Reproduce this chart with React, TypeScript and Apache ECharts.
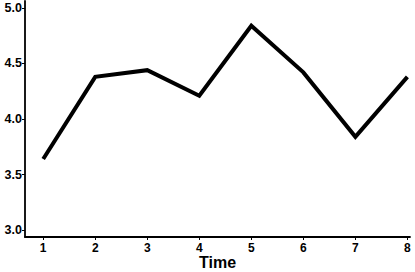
import React, { useEffect, useRef } from "react";
import * as echarts from "echarts";

const times = [1, 2, 3, 4, 5, 6, 7, 8];
const values = [3.64, 4.38, 4.44, 4.21, 4.84, 4.42, 3.84, 4.38];
const yTicks = [3.0, 3.5, 4.0, 4.5, 5.0];
const xTitle = "Time";

export default function App() {
  const ref = useRef<HTMLDivElement>(null);
  useEffect(() => {
    if (!ref.current) return;
    const chart = echarts.init(ref.current, null, { renderer: "svg" });
    const font = "'Liberation Sans', Arial, Helvetica, sans-serif";
    chart.setOption({
      animation: false,
      grid: { left: 25, right: 5, top: 1, bottom: 35, containLabel: false, outerBoundsMode: "none" },
      xAxis: {
        type: "value",
        min: 0.65,
        max: 8.05,
        name: xTitle,
        nameLocation: "middle",
        nameGap: 17,
        nameMoveOverlap: false,
        nameTextStyle: { fontFamily: font, fontWeight: "bold", fontSize: 16, color: "#000" },
        splitLine: { show: false },
        axisLine: { show: true, onZero: false, lineStyle: { color: "#000", width: 1.8 } },
        axisTick: { show: true, customValues: times, length: 3, lineStyle: { color: "#000", width: 1 } },
        axisLabel: {
          customValues: times,
          showMinLabel: true,
          showMaxLabel: true,
          fontFamily: font,
          fontWeight: "bold",
          fontSize: 12,
          color: "#000",
          margin: 5,
        },
      },
      yAxis: {
        type: "value",
        min: 2.937,
        max: 5.063,
        splitLine: { show: false },
        axisLine: { show: true, onZero: false, lineStyle: { color: "#000", width: 1.8 } },
        axisTick: { show: true, customValues: yTicks, length: 3, lineStyle: { color: "#000", width: 1 } },
        axisLabel: {
          customValues: yTicks,
          showMinLabel: true,
          showMaxLabel: true,
          formatter: (v: number) => v.toFixed(1),
          fontFamily: font,
          fontWeight: "bold",
          fontSize: 12.5,
          color: "#000",
          margin: 3,
        },
      },
      series: [
        {
          type: "line",
          data: times.map((t, i) => [t, values[i]]),
          symbol: "none",
          lineStyle: { color: "#000", width: 4, join: "miter" },
        },
      ],
    });
    return () => chart.dispose();
  }, []);
  return (
    <div
      ref={ref}
      style={{ position: "absolute", left: 0, top: 0, width: 415, height: 272 }}
    />
  );
}
